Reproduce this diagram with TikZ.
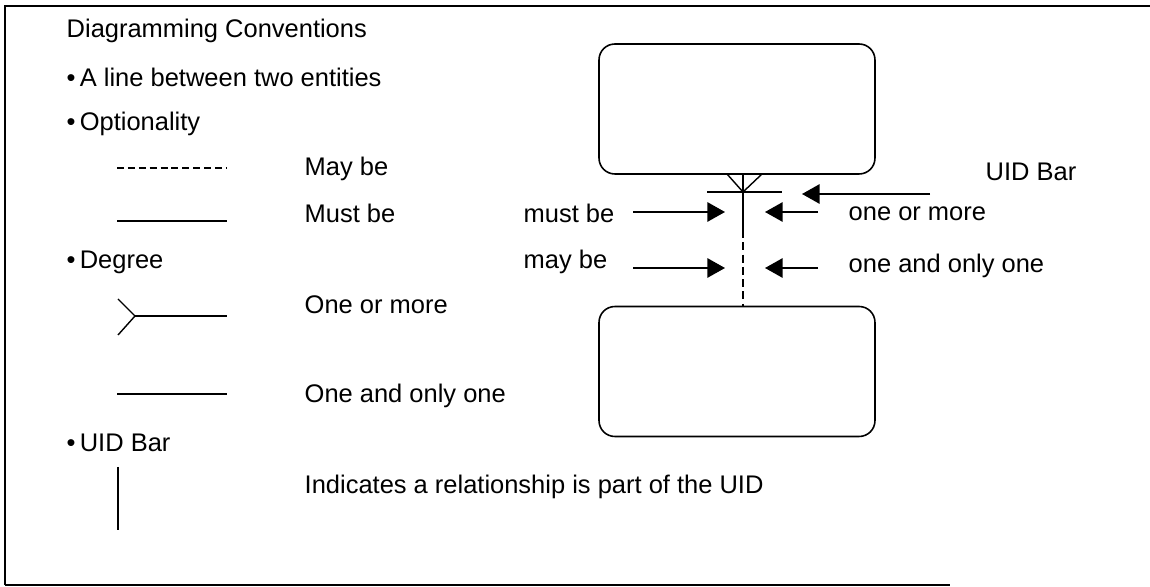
\documentclass[tikz,border=0pt]{standalone}
\usepackage{fontspec}
\setmainfont{Liberation Sans}
\usetikzlibrary{arrows.meta}
\tikzset{
  lbl/.style={anchor=west, inner sep=0pt, font=\fontsize{14.5}{17}\selectfont},
  ptr/.style={-{Triangle[length=10pt,width=11pt]}, line width=0.9pt},
  entity/.style={draw, line width=0.9pt, rounded corners=9pt, minimum width=5.52cm, minimum height=2.6cm},
  optline/.style={dash pattern=on 4pt off 2.2pt},
}

\begin{document}
\begin{tikzpicture}[x=0.02cm, y=-0.02cm, line width=0.8pt]
		%%%%% START %%%%%
		\useasboundingbox (0,0) rectangle (1150,587);

		% frame
		\draw (5,585) -- (5,6) -- (1150,6);
		\draw (5,585) -- (950,585);

		% legend
		\node[lbl] (title) at (66,31) {Diagramming Conventions};
		\node[lbl] (between) at (66,77) {\textbullet\,A line between two entities};
		\node[lbl] (option) at (66,124) {\textbullet\,Optionality};
		\draw[optline] (117,168) -- (227,168);
		\node[lbl] (maybe) at (304,169) {May be};
		\draw (117,221) -- (227,221);
		\node[lbl] (mustbe) at (304,213) {Must be};
		\node[lbl] (degree) at (66,262) {\textbullet\,Degree};
		\draw (118,299) -- (135,316) -- (118,335);
		\draw (135,316) -- (227,316);
		\node[lbl] (more) at (304,305) {One or more};
		\draw (117,394) -- (227,394);
		\node[lbl] (only) at (304,396) {One and only one};
		\node[lbl] (uid) at (66,443) {\textbullet\,UID Bar};
		\draw (118,467) -- (118,530);
		\node[lbl] (part) at (304,487) {Indicates a relationship is part of the UID};

		% sample relationship
		\node[entity] (upper) at (737,109) {};
		\node[entity] (lower) at (737,371.5) {};
		\coordinate (foot) at (743,192);
		\coordinate (split) at (743,230);
		\draw (727,174) -- (foot) -- (762,174);
		\draw (707,192) -- (782,192);
		\draw (foot |- upper.south) -- (split);
		\draw[line width=1.3pt, dash pattern=on 4.5pt off 2.5pt] (split) -- (foot |- lower.north);

		% pointers
		\node[lbl] (mustlbl) at (523,213) {must be};
		\node[lbl] (maylbl) at (523,262) {may be};
		\node[lbl] (barlbl) at (985,172) {UID Bar};
		\node[lbl] (morelbl) at (848,214) {one or more};
		\node[lbl] (onelbl) at (848,266) {one and only one};
		\coordinate (mustend) at (725,212);
		\coordinate (mayend) at (725,268);
		\coordinate (moreend) at (765,212);
		\coordinate (oneend) at (765,268);
		\coordinate (barend) at (802,194);
		\draw[ptr] (633,212) -- (mustend);
		\draw[ptr] (633,268) -- (mayend);
		\draw[ptr] (818,212) -- (moreend);
		\draw[ptr] (818,268) -- (oneend);
		\draw[ptr] (930,194) -- (barend);
		%%%%% END %%%%%
	\end{tikzpicture}
\end{document}
